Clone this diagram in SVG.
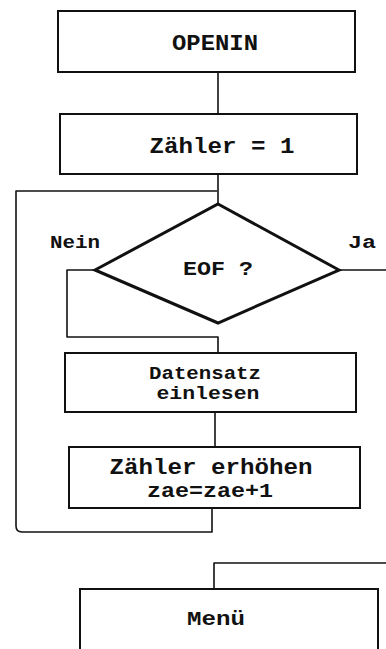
<svg xmlns="http://www.w3.org/2000/svg" width="386" height="649" viewBox="0 0 386 649">
<style>
.box{fill:#fff;stroke:#111;stroke-width:2}
.dia{fill:#fff;stroke:#111;stroke-width:3;stroke-linejoin:miter}
.con{fill:none;stroke:#111;stroke-width:1.6;stroke-linejoin:round}
text{font-family:"Liberation Mono","DejaVu Sans Mono",monospace;font-weight:bold;font-size:22px;fill:#111;text-anchor:middle}
.s{font-size:18px}
.m{font-size:20px}
</style>
<rect width="386" height="649" fill="#fff"/>
<g id="connectors">
<path class="con" d="M218 72V114"/>
<path class="con" d="M218 174V205"/>
<path class="con" d="M217 191H16V526Q16 532 22 532H212V508"/>
<path class="con" d="M339 270H386"/>
<path class="con" d="M95 270H67V337H218V353"/>
<path class="con" d="M215 412V447"/>
<path class="con" d="M386 563H214V589"/>
</g>
<g id="openin"><rect class="box" x="58" y="11" width="297" height="61"/><text x="215" y="50" textLength="86" lengthAdjust="spacingAndGlyphs">OPENIN</text></g>
<g id="zaehler1"><rect class="box" x="60" y="114" width="297" height="60"/><text x="222" y="153" textLength="145" lengthAdjust="spacingAndGlyphs">Zähler = 1</text></g>
<g id="eof"><polygon class="dia" points="218,204 339,270 218,323 95,270"/><text class="m" x="218" y="275" textLength="70" lengthAdjust="spacingAndGlyphs">EOF ?</text></g>
<g id="labels"><text class="s" x="75" y="248" textLength="50" lengthAdjust="spacingAndGlyphs">Nein</text><text class="s" x="362" y="248" textLength="28" lengthAdjust="spacingAndGlyphs">Ja</text></g>
<g id="datensatz"><rect class="box" x="65" y="353" width="291" height="59"/><text class="s" x="205" y="379" textLength="112" lengthAdjust="spacingAndGlyphs">Datensatz</text><text class="s" x="208" y="399" textLength="103" lengthAdjust="spacingAndGlyphs">einlesen</text></g>
<g id="erhoehen"><rect class="box" x="69" y="447" width="291" height="61"/><text x="211" y="474" textLength="203" lengthAdjust="spacingAndGlyphs">Zähler erhöhen</text><text class="m" x="210" y="497" textLength="126" lengthAdjust="spacingAndGlyphs">zae=zae+1</text></g>
<g id="menue"><rect class="box" x="80" y="589" width="298" height="80"/><text class="m" x="216" y="625" textLength="58" lengthAdjust="spacingAndGlyphs">Menü</text></g>
</svg>
